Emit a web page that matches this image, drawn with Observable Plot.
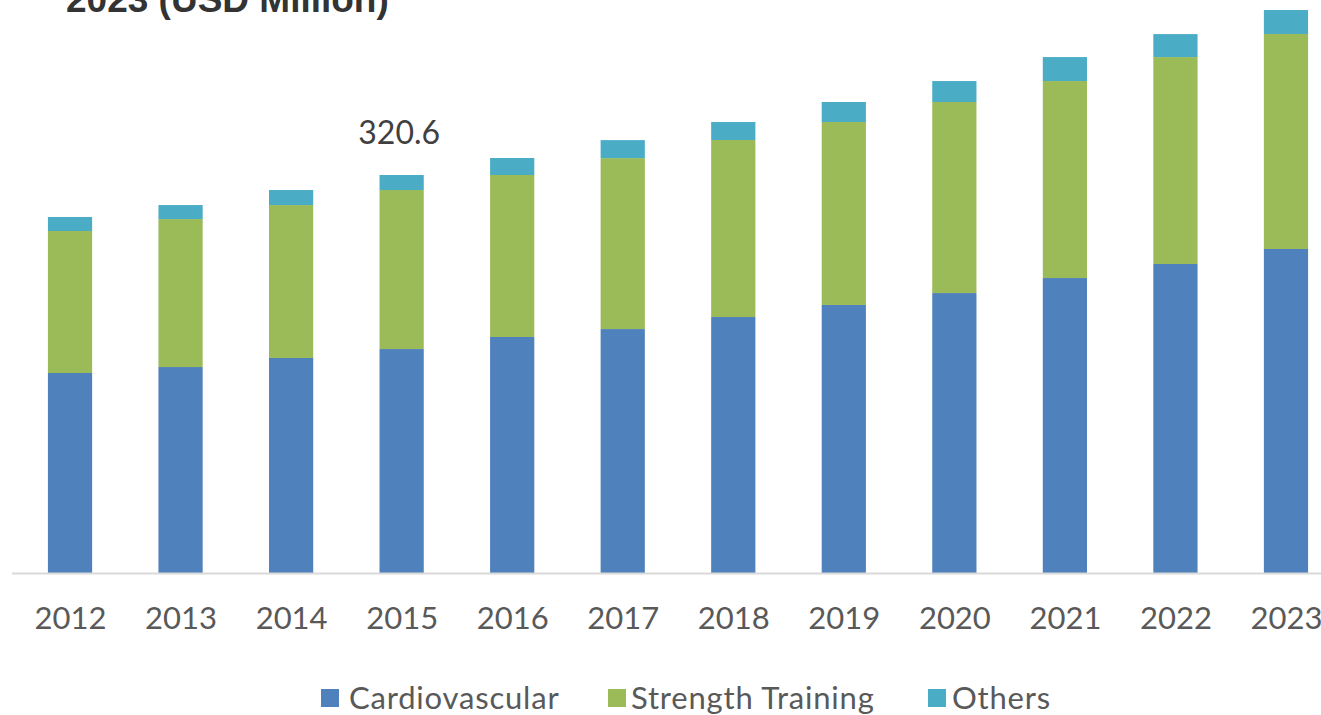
<!DOCTYPE html>
<html>
<head>
<meta charset="utf-8">
<script src="https://cdn.jsdelivr.net/npm/d3@7"></script>
<script src="https://cdn.jsdelivr.net/npm/@observablehq/plot@0.6"></script>
<style>
  html, body { margin: 0; padding: 0; background: #fff; }
  body { width: 1321px; height: 715px; overflow: hidden; position: relative; }
  #title { position: absolute; left: 66px; top: -19px; font: bold 37px "Liberation Sans", Arial, sans-serif; color: #333; line-height: 1; white-space: nowrap; }
  #chart { position: absolute; left: 0; top: 0; }
  .leg { position: absolute; top: 680px; font: 31px Lato, sans-serif; letter-spacing: 0.8px; color: #595959; white-space: nowrap; line-height: 34px; }
  .sw { position: absolute; width: 18px; height: 18px; top: 689px; }
</style>
</head>
<body>
<div id="title">2023 (USD Million)</div>
<div id="chart"></div>
<div id="legend"></div>
<script>
const years = ["2012","2013","2014","2015","2016","2017","2018","2019","2020","2021","2022","2023"];
const seriesNames = ["Cardiovascular", "Strength Training", "Others"];
const seriesColors = ["#4F81BD", "#9BBB59", "#4BACC6"];
const cardiovascular = [161.1, 165.9, 173.2, 180.4, 190.1, 196.5, 206.2, 215.9, 225.5, 237.6, 248.9, 261.0];
const strengthTraining = [114.4, 119.2, 123.2, 128.1, 130.5, 137.7, 142.6, 147.4, 153.9, 158.7, 166.7, 173.2];
const others = [11.3, 11.3, 12.1, 12.1, 13.7, 14.5, 14.5, 16.1, 16.9, 19.3, 18.5, 19.3];
const labelYears = ["2015"];
const labelValues = [320.6];

const seriesValues = [cardiovascular, strengthTraining, others];
const rows = [];
years.forEach((yr, i) => {
  seriesNames.forEach((s, j) => rows.push({year: yr, series: s, value: seriesValues[j][i]}));
});
const labels = labelYears.map((yr, i) => ({year: yr, value: labelValues[i]}));

const pxPerUnit = 398 / 320.6;
const base = 573;

const chart = Plot.plot({
  width: 1321,
  height: 660,
  marginLeft: 12,
  marginRight: 0,
  marginTop: 0,
  marginBottom: 87,
  style: {fontFamily: "Lato, sans-serif", background: "transparent"},
  x: {domain: years, range: [14.75, 1341.25], paddingInner: 0.6, paddingOuter: 0.3, round: false, label: null},
  y: {domain: [0, 400], range: [base, base - 400 * pxPerUnit], axis: null},
  color: {domain: seriesNames, range: seriesColors},
  marks: [
    Plot.barY(rows, {x: "year", y: "value", fill: "series"}),
    Plot.ruleY([0], {stroke: "#d9d9d9", strokeWidth: 2}),
    Plot.axisX({tickSize: 0, tickPadding: 33, fontSize: 31, fill: "#595959", label: null}),
    Plot.text(labels, {x: "year", y: "value", text: d => d.value.toFixed(1), dx: -3, dy: -32, lineAnchor: "bottom", fontSize: 32, fill: "#404040"})
  ]
});
document.getElementById("chart").appendChild(chart);

const legend = document.getElementById("legend");
const swX = [321, 608, 928];
const txX = [349, 631, 952];
seriesNames.forEach((s, i) => {
  const sw = document.createElement("div");
  sw.className = "sw";
  sw.style.left = swX[i] + "px";
  sw.style.background = seriesColors[i];
  legend.appendChild(sw);
  const t = document.createElement("div");
  t.className = "leg";
  t.style.left = txX[i] + "px";
  t.textContent = s;
  legend.appendChild(t);
});
</script>
</body>
</html>
